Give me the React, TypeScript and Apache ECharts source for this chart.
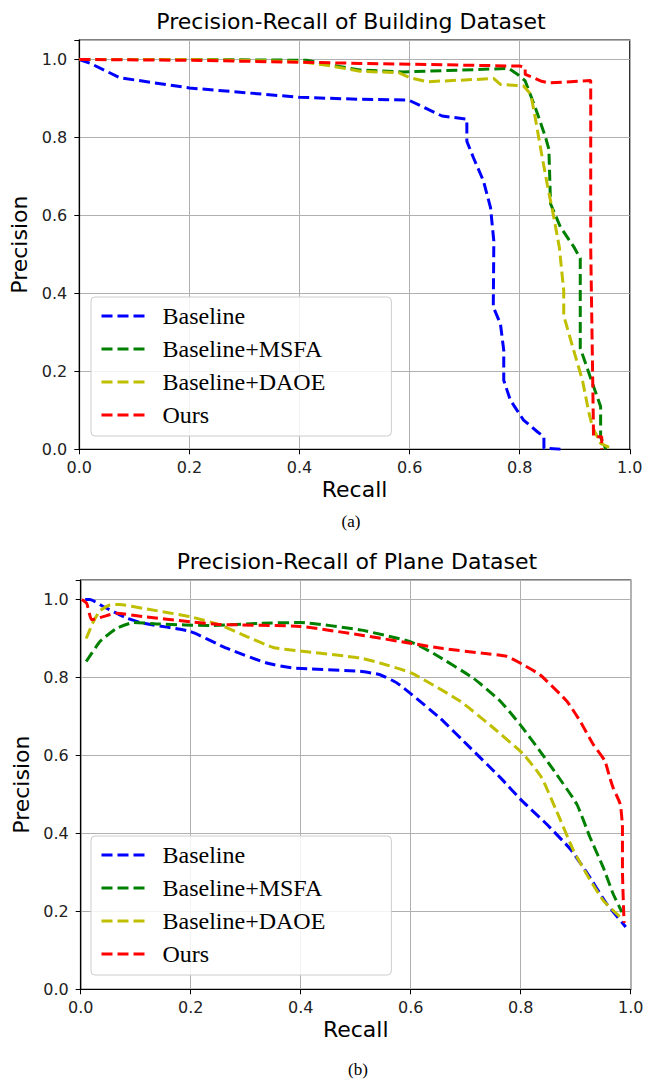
import React, { useEffect, useRef } from "react";
import * as echarts from "echarts";

const xTicks = [0, 0.2, 0.4, 0.6, 0.8, 1.0];
const seriesNames = ["Baseline", "Baseline+MSFA", "Baseline+DAOE", "Ours"];
const seriesColors = ["#0000ff", "#008000", "#bfbf00", "#ff0000"];
const chartTitles = ["Precision-Recall of Building Dataset", "Precision-Recall of Plane Dataset"];
const captions = ["(a)", "(b)"];

const buildingBaseline = [
  [0, 1.0], [0.02, 0.99], [0.074, 0.953], [0.2, 0.927], [0.4, 0.903], [0.51, 0.898],
  [0.598, 0.896], [0.659, 0.855], [0.704, 0.847], [0.704, 0.79], [0.716, 0.748],
  [0.734, 0.689], [0.747, 0.62], [0.753, 0.534], [0.752, 0.365], [0.765, 0.322],
  [0.771, 0.254], [0.771, 0.177], [0.783, 0.126], [0.807, 0.075], [0.832, 0.045],
  [0.844, 0.032], [0.844, 0.003], [0.874, 0.0],
];
const buildingMSFA = [
  [0, 1.0], [0.2, 1.0], [0.413, 0.998], [0.46, 0.985], [0.51, 0.973], [0.589, 0.968],
  [0.78, 0.977], [0.795, 0.963], [0.81, 0.945], [0.83, 0.87], [0.847, 0.8], [0.853, 0.77],
  [0.856, 0.63], [0.874, 0.57], [0.898, 0.52], [0.91, 0.49], [0.91, 0.26], [0.932, 0.17],
  [0.947, 0.11], [0.947, 0.03], [0.953, 0.015], [0.956, 0.0],
];
const buildingDAOE = [
  [0, 1.0], [0.2, 1.0], [0.4, 0.995], [0.45, 0.985], [0.51, 0.97], [0.58, 0.966],
  [0.601, 0.953], [0.632, 0.943], [0.753, 0.951], [0.765, 0.936], [0.807, 0.932],
  [0.82, 0.911], [0.826, 0.868], [0.841, 0.748], [0.85, 0.68], [0.862, 0.595],
  [0.872, 0.518], [0.88, 0.407], [0.88, 0.343], [0.898, 0.254], [0.914, 0.177],
  [0.926, 0.092], [0.932, 0.058], [0.947, 0.015], [0.965, 0.003],
];
const buildingOurs = [
  [0, 1.0], [0.2, 0.998], [0.4, 0.993], [0.51, 0.99], [0.801, 0.983], [0.81, 0.979],
  [0.81, 0.962], [0.838, 0.945], [0.853, 0.94], [0.929, 0.946], [0.929, 0.518],
  [0.934, 0.049], [0.934, 0.032], [0.949, 0.032], [0.949, 0.0],
];

const planeBaseline = [
  [0.008, 1.0], [0.017, 1.0], [0.041, 0.982], [0.084, 0.952], [0.114, 0.939], [0.199, 0.918],
  [0.265, 0.875], [0.338, 0.837], [0.387, 0.824], [0.508, 0.816], [0.544, 0.807],
  [0.575, 0.786], [0.602, 0.756], [0.653, 0.696], [0.708, 0.62], [0.763, 0.543],
  [0.802, 0.484], [0.847, 0.424], [0.89, 0.36], [0.92, 0.3], [0.956, 0.22], [0.991, 0.16],
];
const planeMSFA = [
  [0.01, 0.841], [0.035, 0.892], [0.065, 0.926], [0.096, 0.941], [0.144, 0.937],
  [0.235, 0.933], [0.326, 0.939], [0.399, 0.941], [0.508, 0.922], [0.599, 0.892],
  [0.641, 0.862], [0.714, 0.798], [0.763, 0.739], [0.799, 0.679], [0.835, 0.611],
  [0.865, 0.552], [0.902, 0.475], [0.926, 0.39], [0.95, 0.313], [0.968, 0.245], [0.984, 0.198],
];
const planeDAOE = [
  [0.01, 0.9], [0.023, 0.943], [0.035, 0.971], [0.053, 0.986], [0.071, 0.987], [0.114, 0.977],
  [0.199, 0.956], [0.253, 0.935], [0.302, 0.905], [0.35, 0.877], [0.399, 0.868],
  [0.508, 0.85], [0.544, 0.837], [0.602, 0.811], [0.69, 0.739], [0.75, 0.671],
  [0.805, 0.603], [0.838, 0.543], [0.865, 0.458], [0.896, 0.356], [0.923, 0.288],
  [0.95, 0.228], [0.981, 0.185],
];
const planeOurs = [
  [0.002, 1.0], [0.011, 0.99], [0.02, 0.948], [0.041, 0.956], [0.065, 0.965], [0.114, 0.956],
  [0.199, 0.943], [0.253, 0.936], [0.399, 0.931], [0.508, 0.909], [0.599, 0.888],
  [0.659, 0.874], [0.732, 0.862], [0.775, 0.854], [0.799, 0.837], [0.835, 0.807],
  [0.884, 0.739], [0.908, 0.688], [0.932, 0.628], [0.953, 0.586], [0.962, 0.543],
  [0.968, 0.517], [0.981, 0.475], [0.985, 0.415], [0.985, 0.305], [0.988, 0.17],
];

const buildingData = [buildingBaseline, buildingMSFA, buildingDAOE, buildingOurs];
const planeData = [planeBaseline, planeMSFA, planeDAOE, planeOurs];

const SANS = "DejaVu Sans";
const SERIF = "Liberation Serif";

export default function App() {
  const ref = useRef<HTMLDivElement>(null);
  useEffect(() => {
    if (!ref.current) return;
    const chart = echarts.init(ref.current, null, { renderer: "svg" });
    const grids = [
      { left: 79.3, top: 40, width: 550.5, height: 409.3 },
      { left: 80.7, top: 580, width: 550, height: 409.3 },
    ];
    const axisCommon = {
      axisLine: { show: true, lineStyle: { color: "#000", width: 1.2 } },
      axisTick: { show: true, length: 5, lineStyle: { color: "#000", width: 1 } },
      splitLine: { show: true, lineStyle: { color: "#b0b0b0", width: 1 } },
      nameTextStyle: { fontFamily: SANS, fontSize: 22, color: "#000" },
    };
    const xAxes = grids.map((_, i) => ({
      type: "value",
      gridIndex: i,
      min: xTicks[0],
      max: xTicks[xTicks.length - 1],
      interval: 0.2,
      name: "Recall",
      nameLocation: "middle",
      nameGap: 29,
      ...axisCommon,
      axisLabel: {
        fontFamily: SANS, fontSize: 16, color: "#222", margin: 10,
        formatter: (v: number) => v.toFixed(1),
      },
    }));
    const yAxes = grids.map((_, i) => ({
      type: "value",
      gridIndex: i,
      min: 0,
      max: 1.05,
      interval: 0.2,
      name: "Precision",
      nameLocation: "middle",
      nameGap: 48,
      ...axisCommon,
      axisLabel: {
        fontFamily: SANS, fontSize: 16, color: "#222", margin: 12,
        formatter: (v: number) => (v > 1.001 ? "" : v.toFixed(1)),
      },
    }));
    const series: any[] = [];
    [buildingData, planeData].forEach((set, gi) => {
      set.forEach((d, si) => {
        series.push({
          type: "line",
          name: seriesNames[si],
          xAxisIndex: gi,
          yAxisIndex: gi,
          data: d,
          symbol: "none",
          smooth: gi === 1 ? 0.15 : false,
          lineStyle: { color: seriesColors[si], width: 3, type: [11, 5] },
          itemStyle: { color: seriesColors[si] },
          z: 3 + si,
        });
      });
    });
    const legendTops = [297, 836];
    const legends = legendTops.map((top) => ({
      data: seriesNames,
      orient: "vertical",
      left: 91,
      top,
      itemWidth: 45,
      itemHeight: 1,
      itemGap: 7,
      selectedMode: false,
      itemStyle: { opacity: 0, borderWidth: 0 },
      lineStyle: { width: 3, type: [11, 5] },
      backgroundColor: "rgba(255,255,255,0.85)",
      borderColor: "#cccccc",
      borderWidth: 1,
      borderRadius: 4,
      padding: [6, 66, 8, 9],
      textStyle: {
        fontFamily: SERIF, fontSize: 24, color: "#000", lineHeight: 26,
        padding: [0, 0, 0, 11],
      },
    }));
    const titlePos = [
      { x: 351, y: 21 },
      { x: 357, y: 561 },
    ];
    const captionPos = [
      { x: 351, y: 521 },
      { x: 358, y: 1069 },
    ];
    const graphics: any[] = [];
    chartTitles.forEach((t, i) => {
      graphics.push({
        type: "text",
        x: titlePos[i].x,
        y: titlePos[i].y,
        style: {
          text: t, fontFamily: SANS, fontSize: 22, fill: "#000",
          align: "center", verticalAlign: "middle",
        },
      });
    });
    captions.forEach((t, i) => {
      graphics.push({
        type: "text",
        x: captionPos[i].x,
        y: captionPos[i].y,
        style: {
          text: t, fontFamily: SERIF, fontSize: 17, fill: "#000",
          align: "center", verticalAlign: "middle",
        },
      });
    });
    chart.setOption({
      animation: false,
      backgroundColor: "#fff",
      grid: grids.map((g) => ({ ...g, show: true, borderColor: "#000", borderWidth: 1.2, backgroundColor: "transparent" })),
      xAxis: xAxes,
      yAxis: yAxes,
      legend: legends,
      series,
      graphic: graphics,
    });
    return () => chart.dispose();
  }, []);
  return (
    <div
      ref={ref}
      style={{ position: "absolute", left: 0, top: 0, width: 647, height: 1083 }}
    />
  );
}
